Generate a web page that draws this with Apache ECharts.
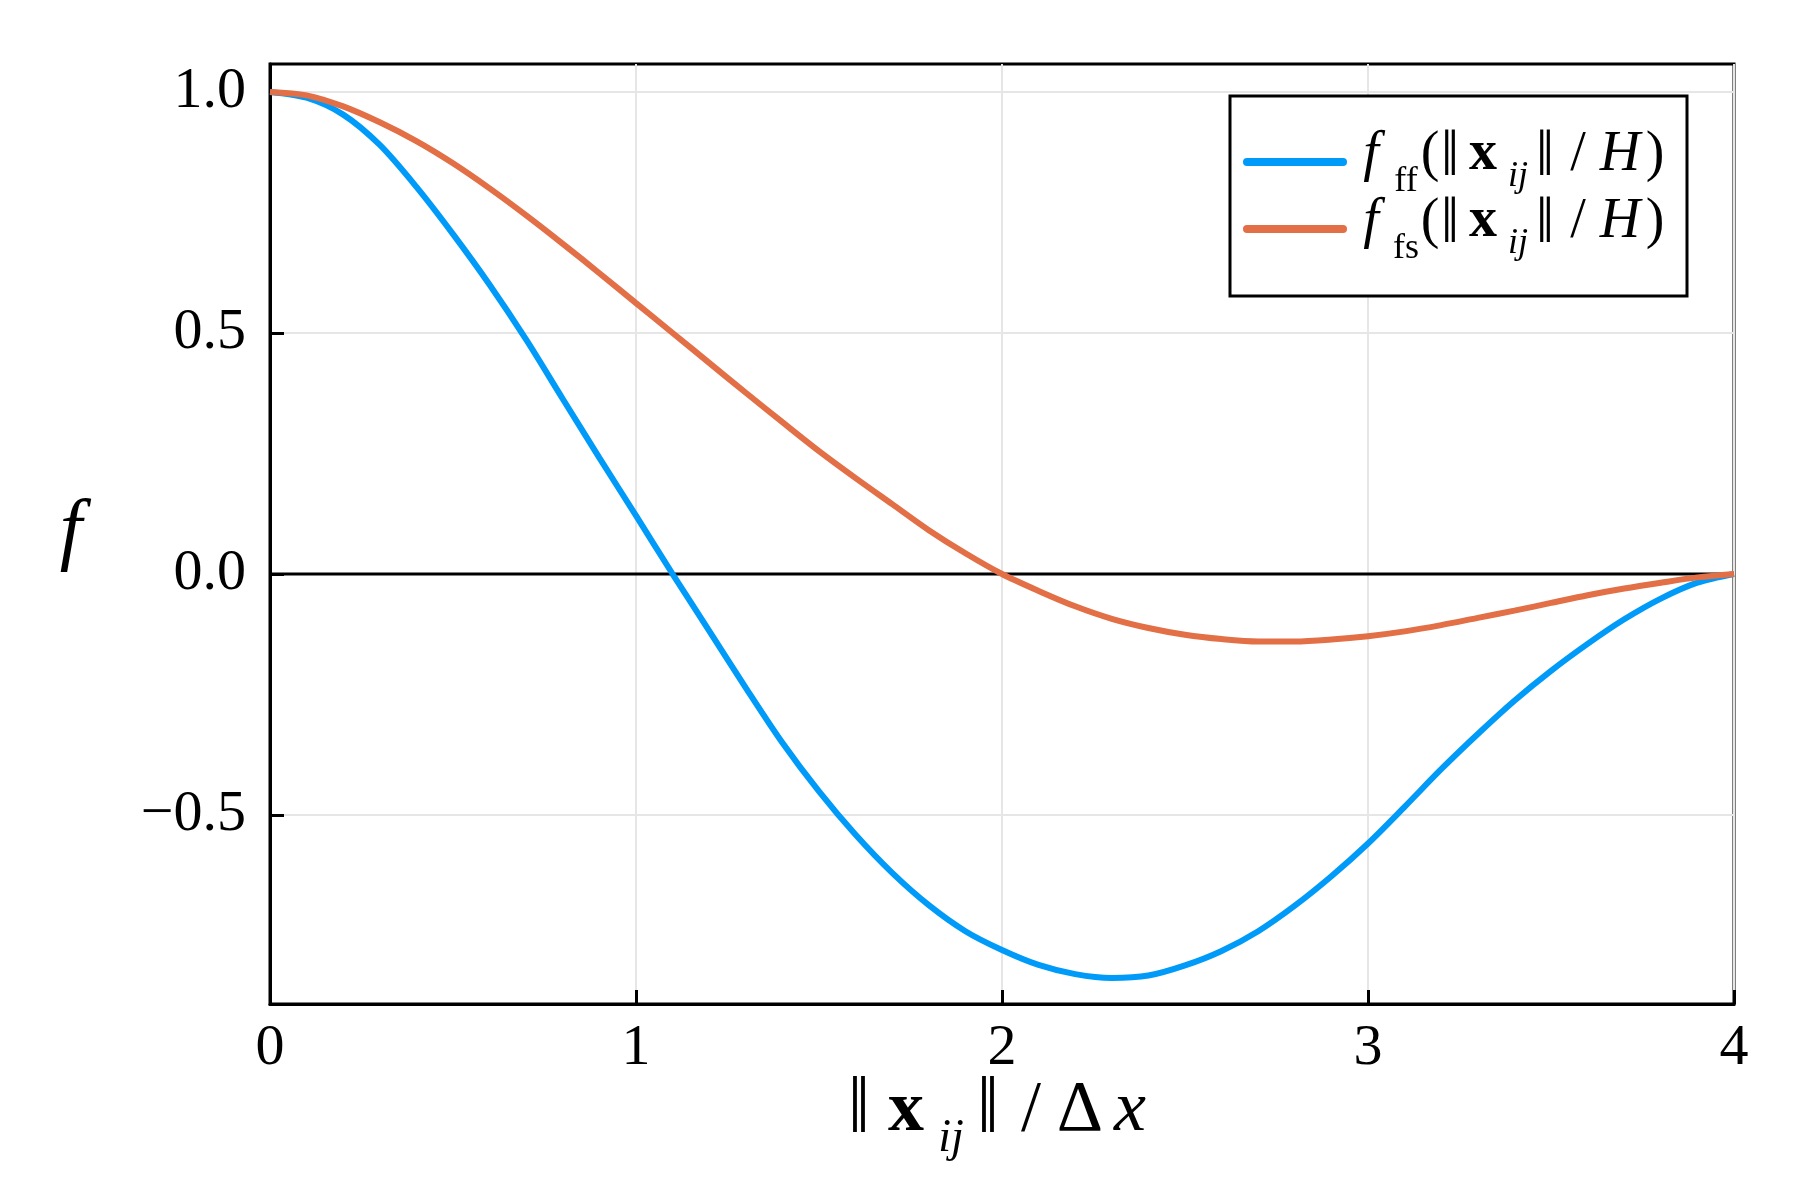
<!DOCTYPE html>
<html>
<head>
<meta charset="utf-8">
<script src="https://cdn.jsdelivr.net/npm/echarts@6/dist/echarts.min.js"></script>
<style>
html,body{margin:0;padding:0;background:#fff;}
#chart{width:1800px;height:1200px;}
</style>
</head>
<body>
<div id="chart"></div>
<script>
// ---- data ----
const xs = [0, 0.1, 0.2, 0.3, 0.4, 0.5, 0.6, 0.7, 0.8, 0.9, 1.0, 1.1, 1.2, 1.3, 1.4, 1.5, 1.6, 1.7, 1.8, 1.9, 2.0, 2.1, 2.2, 2.3, 2.4, 2.5, 2.6, 2.7, 2.8, 2.9, 3.0, 3.1, 3.2, 3.3, 3.4, 3.5, 3.6, 3.7, 3.8, 3.9, 4.0];
const blueY = [1.000, 0.988, 0.953, 0.890, 0.803, 0.705, 0.600, 0.486, 0.363, 0.241, 0.121, 0.000, -0.118, -0.236, -0.350, -0.451, -0.541, -0.620, -0.687, -0.741, -0.780, -0.811, -0.830, -0.838, -0.833, -0.812, -0.782, -0.741, -0.688, -0.627, -0.559, -0.483, -0.405, -0.332, -0.263, -0.201, -0.145, -0.094, -0.051, -0.018, 0];
const orangeY = [1.000, 0.993, 0.970, 0.937, 0.898, 0.852, 0.800, 0.744, 0.685, 0.624, 0.562, 0.500, 0.438, 0.376, 0.315, 0.255, 0.199, 0.145, 0.091, 0.043, 0.000, -0.035, -0.067, -0.093, -0.112, -0.126, -0.135, -0.140, -0.140, -0.136, -0.129, -0.119, -0.106, -0.091, -0.076, -0.060, -0.044, -0.030, -0.018, -0.007, 0];
const hlineX = [0, 4];
const hlineY = [0, 0];
const xTicks = [0, 1, 2, 3, 4];
const yTicks = [-0.5, 0, 0.5, 1.0];
const xRange = [0, 4];
const yRange = [-0.892, 1.058];
const seriesNames = ['fff', 'ffs'];
const seriesSubs = {fff: 'ff', ffs: 'fs'};

const FONT = '"Liberation Serif", "DejaVu Serif", serif';
const BLUE = '#009AF9';
const ORANGE = '#E26F46';

function pairs(xv, yv) { return xv.map((x, i) => [x, yv[i]]); }

function tok(extra) {
  return Object.assign({fontFamily: FONT, color: '#000', align: 'center'}, extra);
}
const legendRich = {
  f:   tok({width: 38, fontSize: 56, fontStyle: 'italic', lineHeight: 60, padding: [0, 0, 14, 0]}),
  sb:  tok({width: 32, fontSize: 36, lineHeight: 60, padding: [40, 0, 0, 0]}),
  lp:  tok({width: 16, fontSize: 56, lineHeight: 60, padding: [0, 0, 14, 0]}),
  n1:  tok({width: 24, fontSize: 66, lineHeight: 60, padding: [0, 0, 8, 0]}),
  bx:  tok({width: 42, fontSize: 56, fontWeight: 'bold', lineHeight: 60, padding: [0, 0, 14, 0]}),
  ij:  tok({width: 28, fontSize: 36, fontStyle: 'italic', lineHeight: 60, padding: [30, 0, 0, 0]}),
  n2:  tok({width: 26, fontSize: 66, lineHeight: 60, padding: [0, 0, 8, 0]}),
  sl:  tok({width: 40, fontSize: 56, lineHeight: 60, padding: [0, 0, 14, 0]}),
  H:   tok({width: 44, fontSize: 56, fontStyle: 'italic', lineHeight: 60, padding: [0, 0, 14, 0]}),
  rp:  tok({width: 26, fontSize: 56, lineHeight: 60, padding: [0, 0, 14, 0]})
};

const xNameRich = {
  n1: tok({width: 38, fontSize: 80, lineHeight: 76}),
  bx: tok({width: 56, fontSize: 72, fontWeight: 'bold', lineHeight: 76}),
  ij: tok({width: 34, fontSize: 46, fontStyle: 'italic', lineHeight: 76, padding: [56, 0, 0, 0]}),
  n2: tok({width: 40, fontSize: 80, lineHeight: 76}),
  sl: tok({width: 46, fontSize: 72, lineHeight: 76}),
  D:  tok({width: 52, fontSize: 72, lineHeight: 76}),
  x:  tok({width: 48, fontSize: 72, fontStyle: 'italic', lineHeight: 76}),
  sp: tok({width: 10, fontSize: 72, lineHeight: 76})
};

const chart = echarts.init(document.getElementById('chart'), null, {renderer: 'canvas'});
chart.setOption({
  backgroundColor: '#fff',
  animation: false,
  grid: {left: 270, right: 66, top: 64, bottom: 196, show: true, borderColor: '#000', borderWidth: 3, backgroundColor: 'transparent'},
  legend: {
    orient: 'vertical', left: 1230, top: 96,
    data: seriesNames,
    itemWidth: 104, itemHeight: 8, itemGap: -9,
    icon: 'path://M4,0 L100,0 A4,4 0 0 1 100,8 L4,8 A4,4 0 0 1 4,0 Z',
    padding: [28, 19, 29, 13],
    borderColor: '#000', borderWidth: 3, backgroundColor: '#fff',
    selectedMode: false,
    formatter: function (name) {
      return '{f|f}{sb|' + seriesSubs[name] + '}{lp|(}{n1|‖}{bx|x}{ij|ij}{n2|‖}{sl|/}{H|H}{rp|)}';
    },
    textStyle: {rich: legendRich}
  },
  xAxis: {
    type: 'value', min: xRange[0], max: xRange[1], interval: 1,
    axisLine: {show: true, onZero: false, lineStyle: {color: '#000', width: 3}},
    axisTick: {show: true, inside: true, length: 14, lineStyle: {color: '#000', width: 3}},
    axisLabel: {margin: 16, fontFamily: FONT, fontSize: 58, color: '#000', customValues: xTicks},
    splitLine: {show: true, lineStyle: {color: '#e6e6e6', width: 2}},
    name: '{n1|‖}{bx|x}{ij|ij}{n2|‖}{sl|/}{D|Δ}{x|x}{sp|}',
    nameLocation: 'middle', nameGap: 69, nameMoveOverlap: false,
    nameTextStyle: {rich: xNameRich}
  },
  yAxis: {
    type: 'value', min: yRange[0], max: yRange[1],
    axisLine: {show: true, onZero: false, lineStyle: {color: '#000', width: 3}},
    axisTick: {show: true, inside: true, length: 14, lineStyle: {color: '#000', width: 3}, customValues: yTicks},
    axisLabel: {
      margin: 24, fontFamily: FONT, fontSize: 58, color: '#000', customValues: yTicks,
      formatter: v => v.toFixed(1).replace('-', '\u2212')
    },
    splitLine: {show: true, lineStyle: {color: '#e6e6e6', width: 2}, customValues: yTicks},
    name: 'f', nameLocation: 'middle', nameGap: 188, nameRotate: 0,
    nameTextStyle: {fontFamily: FONT, fontSize: 80, fontStyle: 'italic', color: '#000'}
  },
  series: [
    {
      name: 'zero', type: 'line', data: pairs(hlineX, hlineY), symbol: 'none', z: 1,
      lineStyle: {color: '#000', width: 3}, silent: true
    },
    {
      name: 'fff', type: 'line', data: pairs(xs, blueY), symbol: 'none', smooth: 0.3, z: 3,
      itemStyle: {color: BLUE}, lineStyle: {color: BLUE, width: 6}
    },
    {
      name: 'ffs', type: 'line', data: pairs(xs, orangeY), symbol: 'none', smooth: 0.3, z: 4,
      itemStyle: {color: ORANGE}, lineStyle: {color: ORANGE, width: 6}
    }
  ]
});
</script>
</body>
</html>
